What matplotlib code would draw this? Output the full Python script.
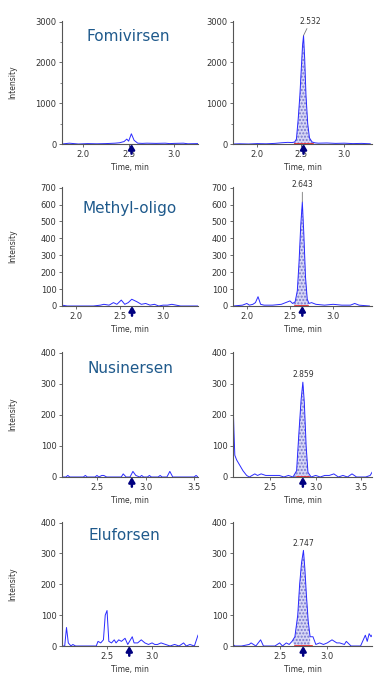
import matplotlib
matplotlib.use("Agg")
import matplotlib.pyplot as plt
from matplotlib.ticker import MultipleLocator

plt.rcParams['font.family'] = ['DejaVu Sans']

# Nomes dos compostos e tempos de retenção
compostos = ["Fomivirsen", "Methyl-oligo", "Nusinersen", "Eluforsen"]
tempos_ret = [2.532, 2.643, 2.859, 2.747]
rotulos_pico = ["2.532", "2.643", "2.859", "2.747"]
janelas_int = [(2.43, 2.64), (2.56, 2.71), (2.79, 2.93), (2.66, 2.84)]

# Fomivirsen - branco (esquerda) e amostra (direita)
fomi_branco_t = [1.77, 1.85, 1.95, 2.05, 2.15, 2.25, 2.3, 2.35, 2.4, 2.45, 2.48, 2.5,
                 2.53, 2.56, 2.6, 2.65, 2.7, 2.8, 2.9, 2.95, 3.0, 3.1, 3.15, 3.26]
fomi_branco_y = [0, 20, 0, 10, 5, 10, 15, 20, 30, 60, 120, 70,
                 250, 90, 20, 15, 20, 15, 20, 10, 15, 20, 5, 10]
fomi_amostra_t = [1.72, 1.8, 1.9, 2.0, 2.1, 2.2, 2.28, 2.35, 2.4, 2.43, 2.45, 2.47, 2.49,
                  2.505, 2.52, 2.532, 2.545, 2.56, 2.58, 2.6, 2.63, 2.66, 2.7, 2.8, 2.9,
                  3.0, 3.1, 3.2, 3.3]
fomi_amostra_y = [0, 5, 0, 10, 5, 15, 30, 40, 35, 50, 120, 600, 1200,
                  1800, 2400, 2660, 2100, 1200, 500, 150, 50, 30, 20, 25, 15,
                  20, 10, 15, 5]

# Methyl-oligo
metil_branco_t = [1.84, 1.9, 2.0, 2.1, 2.2, 2.28, 2.32, 2.38, 2.43, 2.47, 2.52, 2.56, 2.6,
                  2.64, 2.7, 2.75, 2.8, 2.85, 2.9, 2.95, 3.0, 3.05, 3.1, 3.15, 3.2, 3.42]
metil_branco_y = [5, 0, 0, 0, 0, 5, 10, 5, 20, 10, 35, 10, 20,
                  40, 25, 10, 15, 5, 10, 0, 5, 5, 10, 5, 0, 0]
metil_amostra_t = [1.84, 1.95, 2.0, 2.03, 2.07, 2.1, 2.13, 2.16, 2.2, 2.3, 2.4, 2.45, 2.5,
                   2.53, 2.56, 2.585, 2.605, 2.625, 2.643, 2.66, 2.68, 2.7, 2.72, 2.75, 2.8,
                   2.9, 3.0, 3.1, 3.2, 3.25, 3.3, 3.42]
metil_amostra_y = [0, 5, 15, 5, 10, 20, 55, 10, 5, 5, 10, 20, 30,
                   15, 25, 90, 260, 480, 615, 430, 170, 40, 15, 20, 10,
                   5, 10, 5, 5, 15, 5, 0]

# Nusinersen
nusi_branco_t = [2.14, 2.18, 2.2, 2.22, 2.3, 2.36, 2.38, 2.4, 2.48, 2.5, 2.52, 2.55, 2.57,
                 2.6, 2.7, 2.75, 2.77, 2.8, 2.84, 2.87, 2.9, 2.94, 2.96, 2.98, 3.02, 3.04,
                 3.06, 3.13, 3.15, 3.17, 3.22, 3.25, 3.28, 3.5, 3.52, 3.54]
nusi_branco_y = [0, 0, 5, 0, 0, 0, 5, 0, 0, 5, 0, 5, 5,
                 0, 0, 0, 10, 0, 0, 18, 5, 0, 5, 0, 0, 5,
                 0, 0, 5, 0, 0, 18, 0, 0, 5, 0]
nusi_amostra_t = [2.09, 2.10, 2.11, 2.13, 2.16, 2.2, 2.24, 2.27, 2.3, 2.33, 2.36, 2.4, 2.45,
                  2.5, 2.55, 2.6, 2.65, 2.7, 2.75, 2.79, 2.815, 2.84, 2.859, 2.875, 2.895,
                  2.915, 2.95, 3.0, 3.05, 3.1, 3.15, 3.2, 3.25, 3.3, 3.35, 3.4, 3.45, 3.5,
                  3.55, 3.6, 3.62]
nusi_amostra_y = [250, 150, 70, 55, 40, 20, 5, 0, 5, 10, 5, 10, 5,
                  5, 5, 5, 0, 5, 0, 20, 140, 250, 305, 240, 100,
                  15, 0, 5, 0, 5, 5, 10, 0, 5, 0, 10, 0, 0,
                  0, 5, 15]

# Eluforsen
elu_branco_t = [2.0, 2.03, 2.05, 2.07, 2.1, 2.12, 2.15, 2.2, 2.3, 2.38, 2.4, 2.43, 2.46,
                2.48, 2.5, 2.52, 2.55, 2.58, 2.6, 2.63, 2.66, 2.7, 2.73, 2.76, 2.78, 2.8,
                2.84, 2.88, 2.92, 2.96, 3.0, 3.03, 3.06, 3.1, 3.15, 3.2, 3.25, 3.3, 3.35,
                3.38, 3.42, 3.47, 3.51]
elu_branco_y = [0, 0, 60, 10, 0, 5, 0, 0, 0, 0, 15, 10, 20,
                100, 115, 15, 10, 20, 10, 20, 15, 25, 5, 20, 30, 10,
                10, 20, 10, 5, 10, 5, 5, 10, 5, 0, 5, 0, 10,
                0, 5, 0, 35]
elu_amostra_t = [2.01, 2.03, 2.1, 2.18, 2.2, 2.25, 2.3, 2.33, 2.4, 2.45, 2.5, 2.53, 2.57,
                 2.6, 2.63, 2.66, 2.69, 2.71, 2.73, 2.75, 2.765, 2.78, 2.8, 2.82, 2.85,
                 2.88, 2.92, 2.96, 3.0, 3.05, 3.1, 3.13, 3.18, 3.2, 3.25, 3.3, 3.35, 3.4,
                 3.42, 3.44, 3.46, 3.47]
elu_amostra_y = [5, 0, 0, 5, 10, 0, 20, 0, 0, 0, 10, 0, 10,
                 5, 15, 30, 100, 200, 270, 310, 250, 170, 80, 30, 30,
                 5, 10, 5, 10, 20, 10, 10, 5, 15, 0, 0, 0, 35,
                 15, 40, 30, 35]

brancos = [(fomi_branco_t, fomi_branco_y), (metil_branco_t, metil_branco_y),
           (nusi_branco_t, nusi_branco_y), (elu_branco_t, elu_branco_y)]
amostras = [(fomi_amostra_t, fomi_amostra_y), (metil_amostra_t, metil_amostra_y),
            (nusi_amostra_t, nusi_amostra_y), (elu_amostra_t, elu_amostra_y)]

# Eixos: limites e ticks
y_max = [3000, 700, 400, 400]
y_passo = [1000, 100, 100, 100]
x_lim_esq = [(1.77, 3.26), (1.84, 3.40), (2.14, 3.54), (2.0, 3.51)]
x_lim_dir = [(1.72, 3.32), (1.84, 3.45), (2.09, 3.62), (2.01, 3.47)]
x_ticks = [[2.0, 2.5, 3.0], [2.0, 2.5, 3.0], [2.5, 3.0, 3.5], [2.5, 3.0]]

# Posições em pixels (topo, base) de cada linha
W, H = 382, 680
linhas_px = [(21, 144), (187, 306), (352, 477), (522, 646)]
col_px = [(62, 198), (233, 372)]
titulo_pos = [(0.49, 0.87), (0.50, 0.82), (0.50, 0.87), (0.46, 0.89)]
rotulo_off = [(5, 7), (0, 9), (0, 2), (0, 2)]

cor_linha = '#2a2aff'
cor_texto = '#333333'

fig = plt.figure(figsize=(W / 100, H / 100), dpi=100)


def estilo_eixo(ax, i, xlim):
    ax.set_xlim(*xlim)
    ax.set_ylim(0, y_max[i] * 1.005)
    ax.set_xticks(x_ticks[i])
    ax.xaxis.set_major_formatter(plt.FormatStrFormatter('%.1f'))
    ax.yaxis.set_major_locator(MultipleLocator(y_passo[i]))
    if i == 0:
        ax.yaxis.set_minor_locator(MultipleLocator(500))
    for lado in ['top', 'right']:
        ax.spines[lado].set_visible(False)
    for lado in ['left', 'bottom']:
        ax.spines[lado].set_color('#555555')
        ax.spines[lado].set_linewidth(0.8)
    ax.tick_params(labelsize=6, colors='#555555', labelcolor=cor_texto,
                   length=2.5, width=0.6, pad=1.5)
    ax.tick_params(which='minor', length=1.5, width=0.5, colors='#555555')
    ax.set_xlabel("Time, min", fontsize=5.5, color=cor_texto, labelpad=3)
    ax.patch.set_alpha(0)


def seta(ax, rt):
    ax.annotate('', xy=(rt, 0), xycoords=('data', 'axes fraction'),
                xytext=(0, -7), textcoords='offset points',
                arrowprops=dict(arrowstyle='-|>,head_width=0.18,head_length=0.3',
                                color='#000080', lw=1.8, shrinkA=0, shrinkB=0),
                annotation_clip=False)


for i in range(4):
    topo, base = linhas_px[i]
    for j, (x0, x1) in enumerate(col_px):
        ax = fig.add_axes([x0 / W, 1 - base / H, (x1 - x0) / W, (base - topo) / H])
        if j == 0:
            t, y = brancos[i]
            ax.plot(t, y, color=cor_linha, lw=0.7)
            estilo_eixo(ax, i, x_lim_esq[i])
            ax.set_ylabel("Intensity", fontsize=5.5, color=cor_texto)
            ax.yaxis.set_label_coords(-0.33, 0.5)
            ax.text(titulo_pos[i][0], titulo_pos[i][1], compostos[i],
                    transform=ax.transAxes, fontsize=11, color='#1f5a8c',
                    ha='center', va='center')
        else:
            t, y = amostras[i]
            a, b = janelas_int[i]
            ax.fill_between(t, y, 0, where=[a <= v <= b for v in t], interpolate=True,
                            facecolor='#d6d6f5', edgecolor='#7777cc', hatch='.....', lw=0)
            ax.plot(t, y, color=cor_linha, lw=0.7)
            ax.plot([a, b], [0, 0], color='#ee2222', lw=1.2)
            estilo_eixo(ax, i, x_lim_dir[i])
            pico = max(y)
            ax.annotate(rotulos_pico[i], xy=(tempos_ret[i], pico),
                        xytext=rotulo_off[i], textcoords='offset points',
                        ha='center', va='bottom', fontsize=5.5, color=cor_texto,
                        arrowprops=dict(arrowstyle='-', color='#777777', lw=0.6,
                                        shrinkA=0, shrinkB=0) if i < 2 else None,
                        annotation_clip=False)
        seta(ax, tempos_ret[i])

fig.savefig("out.png", dpi=100)
